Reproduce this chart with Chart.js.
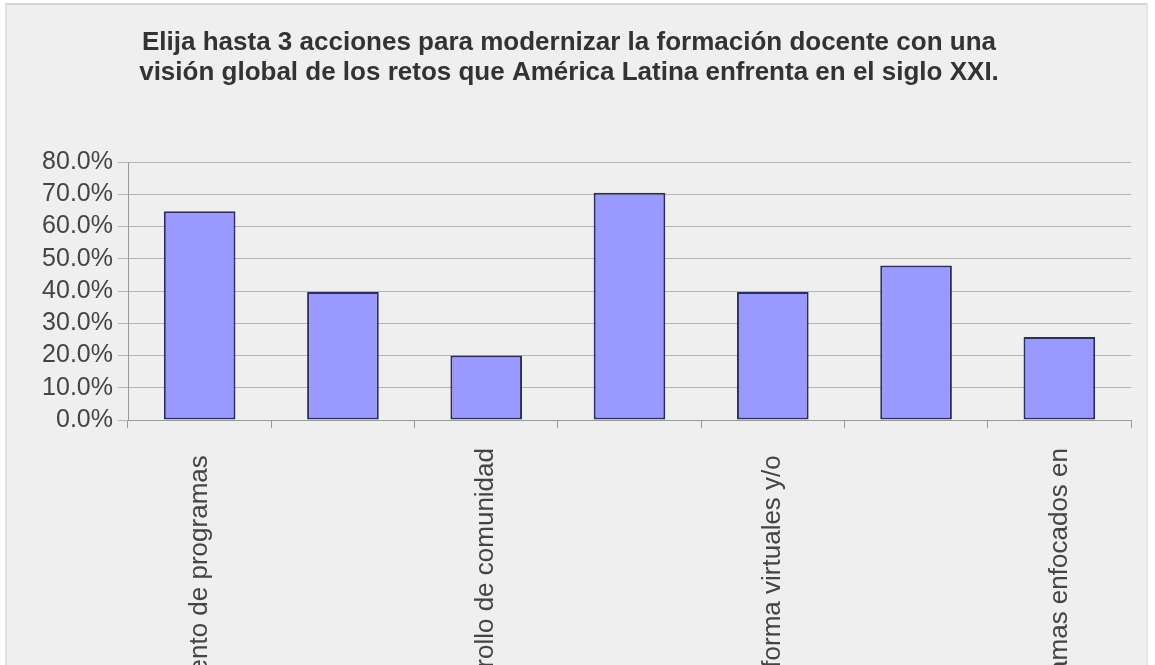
<!DOCTYPE html>
<html>
<head>
<meta charset="utf-8">
<script src="https://cdn.jsdelivr.net/npm/chart.js@4.4.1/dist/chart.umd.min.js"></script>
<style>
  html, body { margin: 0; padding: 0; background: #ffffff; width: 1155px; height: 665px; overflow: hidden; }
  #frame { position: absolute; left: 5px; top: 3px; width: 1143px; height: 662px; background: #efefef;
           border-top: 2px solid #d4d4d4; border-left: 2px solid #e0e0e0; border-right: 2px solid #e4e4e4; box-sizing: border-box; }
  #wrap { position: absolute; left: 0; top: 0; width: 1139px; height: 660px; }
</style>
</head>
<body>
<div id="frame"><div id="wrap"><canvas id="c"></canvas></div></div>
<script>
const titleLines = [
  "Elija hasta 3 acciones para modernizar la formación docente con una",
  "visión global de los retos que América Latina enfrenta en el siglo XXI."
];
const categories = [
  "Fortalecimiento de programas ",
  "Actualización de contenidos",
  "Desarrollo de comunidad",
  "Movilidad académica",
  "Plataforma virtuales y/o ",
  "Investigación educativa",
  "Programas enfocados en"
];
const values = [0.647, 0.397, 0.200, 0.705, 0.397, 0.479, 0.257];
const yTicks = { min: 0, max: 0.8, step: 0.1 };

new Chart(document.getElementById('c'), {
  type: 'bar',
  data: {
    labels: categories,
    datasets: [{
      data: values,
      backgroundColor: '#9999ff',
      borderColor: '#2e2e5c',
      borderWidth: 2,
      borderSkipped: false,
      barPercentage: 0.5,
      categoryPercentage: 1.0
    }]
  },
  options: {
    responsive: true,
    maintainAspectRatio: false,
    animation: false,
    layout: { padding: { left: 0, right: 15, top: 0, bottom: 0 } },
    plugins: {
      legend: { display: false },
      tooltip: { enabled: false },
      title: {
        display: true,
        text: titleLines,
        color: '#333333',
        font: { family: '"Liberation Sans", Arial, sans-serif', size: 26, weight: 'bold', lineHeight: 1.154 },
        padding: { top: 23, bottom: 74 }
      }
    },
    scales: {
      x: {
        offset: true,
        grid: { display: true, drawOnChartArea: false, drawTicks: true, tickLength: 8, color: '#9a9a9a', offset: true },
        border: { display: true, color: '#9a9a9a', width: 1 },
        ticks: {
          autoSkip: false,
          maxRotation: 90,
          minRotation: 90,
          padding: 20,
          color: '#444444',
          font: { family: '"Liberation Sans", Arial, sans-serif', size: 26 },
          callback: function(v, i) { return i % 2 === 0 ? this.getLabelForValue(v) : ''; }
        },
        afterFit: function(s) { s.height = 245; }
      },
      y: {
        min: yTicks.min,
        max: yTicks.max,
        grid: { color: '#b4b4b4', tickLength: 10, lineWidth: 1 },
        border: { display: true, color: '#9a9a9a', width: 1 },
        ticks: {
          autoSkip: false,
          stepSize: yTicks.step,
          padding: 5,
          color: '#444444',
          font: { family: '"Liberation Sans", Arial, sans-serif', size: 25, lineHeight: 1.0 },
          callback: v => (v * 100).toFixed(1) + '%'
        },
        afterFit: function(s) { s.width = 121; }
      }
    }
  }
});
</script>
</body>
</html>
